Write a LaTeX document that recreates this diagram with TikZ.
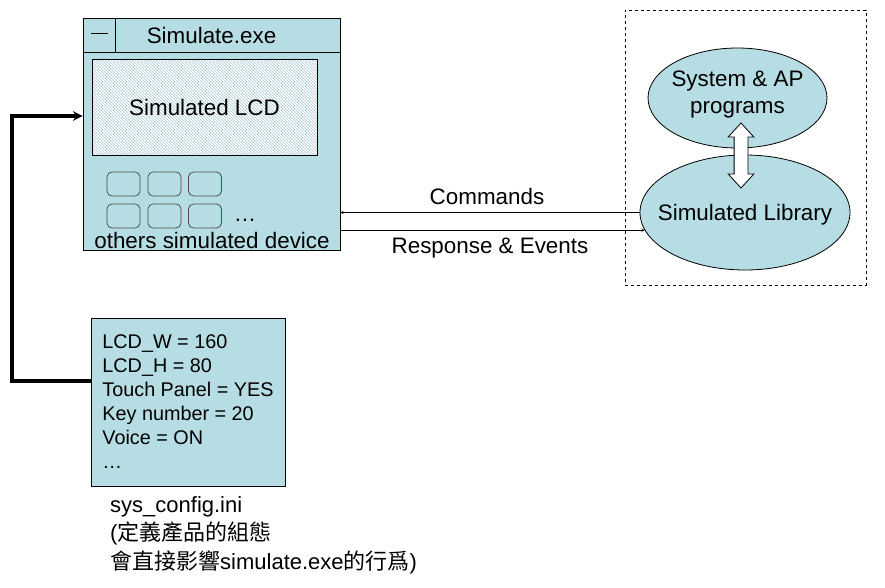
\documentclass[tikz,border=0pt]{standalone}
\usepackage{fontspec}
\setmainfont{Liberation Sans}
\newfontfamily\cjk{Noto Sans CJK TC}
\usepackage{tikz}
\usetikzlibrary{arrows, positioning, shapes, shapes.geometric, shapes.arrows, patterns, calc}
\definecolor{simblue}{RGB}{183,221,228}
\definecolor{hatchblue}{RGB}{165,200,210}
\tikzset{
	every node/.style={
		align=center,
		font=\fontsize{22.4}{27}\selectfont,
	},
	box-node/.style={
		rectangle,
		draw=black, line width=0.8pt,
		fill=simblue,
		inner sep=0pt,
		anchor=center
	},
	key-node/.style={
		rectangle,
		rounded corners=5pt,
		draw=black!70, line width=0.8pt,
		fill=simblue,
		minimum width=33pt,
		minimum height=24pt,
		inner sep=0pt
	},
	lcd-node/.style={
		rectangle,
		draw=black, line width=0.6pt,
		preaction={fill=white},
		pattern=north west lines, pattern color=hatchblue,
		minimum width=225pt,
		minimum height=96pt
	},
	oval-node/.style={
		ellipse,
		draw=black, line width=0.8pt,
		fill=simblue,
		inner sep=0pt
	},
	msg-style/.style = {thin, ->, >=stealth},
	link-style/.style = {line width=3.2pt, ->, >=stealth},
}

\begin{document}
\begin{tikzpicture}[x=1pt,y=-1pt]
	\useasboundingbox (0,0) rectangle (885,588);
	% simulate.exe window
	\node (win) [box-node, minimum width=257pt, minimum height=232pt] at (211.5,134) {};
	\node (title) [box-node, minimum width=257pt, minimum height=34pt, anchor=north] at (win.north) {Simulate.exe};
	\node (minbox) [box-node, minimum width=32pt, minimum height=34pt, anchor=north west] at (win.north west) {\raisebox{3pt}{\rule{17pt}{0.7pt}}};
	\node (lcd) [lcd-node] at (204.5,107) {Simulated LCD};
	\foreach \r/\y in {1/184,2/216}
		\foreach \c/\x in {1/123.5,2/164.5,3/205}
			\node (key-\r-\c) [key-node] at (\x,\y) {};
	\node (more) [inner sep=0pt] at (245,220) {\ldots};
	\node (dev) at (212,240) {others simulated device};
	% simulated side
	\node (side) [rectangle, draw, dashed, minimum width=241pt, minimum height=275pt] at (745.5,147.5) {};
	\node (sysap) [oval-node, minimum width=179pt, minimum height=100pt] at (737.5,98) {};
	\node (sysap-text) at (737.5,95) {System \& AP\\programs};
	\node (simlib) [oval-node, minimum width=210pt, minimum height=115pt, label={[yshift=-2pt]center:Simulated Library}] at (745,212.5) {};
	\node (link) [double arrow, draw=black, line width=0.8pt, fill=white, rotate=90, inner xsep=0pt, inner ysep=6.5pt,
		minimum height=65pt, minimum width=25pt, double arrow head extend=6pt, double arrow tip angle=85] at (741,155.5) {};
	% messages
	\draw[msg-style] (simlib.west) -- (simlib.west -| win.east);
	\draw[msg-style] (simlib.190 -| win.east) -- (simlib.190);
	\node (cmd) at (487,196) {Commands};
	\node (resp) at (490,248) {Response \& Events};
	% config file
	\node (cfg) [box-node, minimum width=194pt, minimum height=168pt, align=left,
		font=\fontsize{19.8}{24}\selectfont] at (188,402)
		{LCD\_W = 160\\LCD\_H = 80\\Touch Panel = YES\\Key number = 20\\Voice = ON\\\ldots};
	\node (cfg-name) [anchor=north west, align=left, inner sep=0pt, font=\fontsize{22}{28.5}\selectfont] at (110,496)
		{sys\_config.ini\\({\cjk 定義產品的組態}\\{\cjk 會直接影響}simulate.exe{\cjk 的行爲})};
	\coordinate (bend) at (12,116);
	\draw[link-style] ([yshift=21pt]cfg.west) -| (bend) -- (bend -| win.west);
\end{tikzpicture}
\end{document}
